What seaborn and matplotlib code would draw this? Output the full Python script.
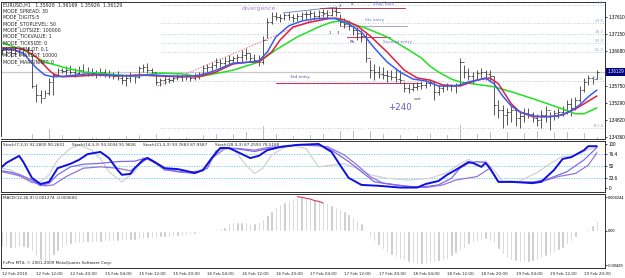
import numpy as np
import matplotlib.pyplot as plt
import matplotlib.transforms as mtransforms
import pandas as pd
import seaborn as sns

sns.set_style("white")
plt.rcParams['font.family'] = ['DejaVu Sans']

# ==========================================
# data (EURUSD H1, 12-19 Feb 2010)
# ==========================================
highs = [1.3680, 1.3677, 1.3674, 1.3677, 1.3680, 1.3677, 1.3680, 1.3672, 1.3580, 1.3563,
         1.3563, 1.3596, 1.3609, 1.3623, 1.3623, 1.3628, 1.3631, 1.3623, 1.3628, 1.3634,
         1.3626, 1.3623, 1.3617, 1.3623, 1.3620, 1.3617, 1.3612, 1.3615, 1.3607, 1.3601,
         1.3612, 1.3607, 1.3628, 1.3634, 1.3636, 1.3623, 1.3612, 1.3596, 1.3601, 1.3599,
         1.3604, 1.3607, 1.3604, 1.3609, 1.3607, 1.3609, 1.3612, 1.3631, 1.3634, 1.3639,
         1.3650, 1.3647, 1.3653, 1.3658, 1.3655, 1.3661, 1.3672, 1.3677, 1.3663, 1.3661,
         1.3658, 1.3710, 1.3758, 1.3775, 1.3775, 1.3769, 1.3772, 1.3775, 1.3769, 1.3772,
         1.3775, 1.3777, 1.3780, 1.3777, 1.3780, 1.3783, 1.3780, 1.3785, 1.3788, 1.3769,
         1.3758, 1.3753, 1.3739, 1.3734, 1.3726, 1.3718, 1.3645, 1.3634, 1.3628, 1.3626,
         1.3617, 1.3617, 1.3623, 1.3617, 1.3585, 1.3580, 1.3582, 1.3585, 1.3588, 1.3590,
         1.3593, 1.3585, 1.3577, 1.3580, 1.3582, 1.3580, 1.3582, 1.3650, 1.3631, 1.3623,
         1.3612, 1.3617, 1.3623, 1.3617, 1.3617, 1.3601, 1.3536, 1.3523, 1.3515, 1.3523,
         1.3515, 1.3504, 1.3515, 1.3515, 1.3504, 1.3499, 1.3509, 1.3520, 1.3504, 1.3509,
         1.3515, 1.3520, 1.3536, 1.3542, 1.3545, 1.3574, 1.3596, 1.3604, 1.3601, 1.3617]
lows = [1.3658, 1.3655, 1.3653, 1.3658, 1.3655, 1.3658, 1.3661, 1.3569, 1.3531, 1.3528,
        1.3545, 1.3550, 1.3550, 1.3604, 1.3609, 1.3604, 1.3607, 1.3599, 1.3607, 1.3609,
        1.3601, 1.3601, 1.3596, 1.3601, 1.3599, 1.3596, 1.3593, 1.3590, 1.3580, 1.3574,
        1.3585, 1.3582, 1.3596, 1.3612, 1.3609, 1.3604, 1.3577, 1.3574, 1.3580, 1.3582,
        1.3585, 1.3590, 1.3588, 1.3590, 1.3588, 1.3590, 1.3593, 1.3601, 1.3612, 1.3617,
        1.3623, 1.3626, 1.3628, 1.3631, 1.3634, 1.3636, 1.3639, 1.3645, 1.3639, 1.3636,
        1.3628, 1.3634, 1.3704, 1.3742, 1.3753, 1.3747, 1.3753, 1.3753, 1.3747, 1.3750,
        1.3753, 1.3756, 1.3758, 1.3753, 1.3756, 1.3761, 1.3756, 1.3764, 1.3764, 1.3737,
        1.3731, 1.3726, 1.3712, 1.3699, 1.3693, 1.3639, 1.3596, 1.3590, 1.3596, 1.3593,
        1.3585, 1.3590, 1.3585, 1.3582, 1.3558, 1.3555, 1.3561, 1.3563, 1.3566, 1.3569,
        1.3574, 1.3536, 1.3550, 1.3558, 1.3563, 1.3561, 1.3555, 1.3574, 1.3596, 1.3590,
        1.3580, 1.3590, 1.3596, 1.3590, 1.3585, 1.3496, 1.3488, 1.3461, 1.3469, 1.3477,
        1.3466, 1.3461, 1.3477, 1.3488, 1.3477, 1.3466, 1.3461, 1.3477, 1.3456, 1.3482,
        1.3488, 1.3493, 1.3499, 1.3493, 1.3509, 1.3531, 1.3558, 1.3577, 1.3580, 1.3593]
closes = [1.3672, 1.3666, 1.3663, 1.3669, 1.3666, 1.3672, 1.3672, 1.3574, 1.3550, 1.3542,
          1.3555, 1.3585, 1.3604, 1.3617, 1.3615, 1.3617, 1.3612, 1.3609, 1.3617, 1.3612,
          1.3612, 1.3609, 1.3607, 1.3612, 1.3604, 1.3607, 1.3601, 1.3596, 1.3590, 1.3596,
          1.3604, 1.3599, 1.3623, 1.3626, 1.3617, 1.3612, 1.3585, 1.3590, 1.3593, 1.3590,
          1.3596, 1.3599, 1.3601, 1.3604, 1.3596, 1.3601, 1.3607, 1.3623, 1.3626, 1.3631,
          1.3639, 1.3636, 1.3642, 1.3645, 1.3650, 1.3653, 1.3658, 1.3663, 1.3650, 1.3645,
          1.3639, 1.3699, 1.3747, 1.3764, 1.3761, 1.3758, 1.3766, 1.3761, 1.3758, 1.3764,
          1.3769, 1.3769, 1.3772, 1.3764, 1.3775, 1.3772, 1.3766, 1.3777, 1.3775, 1.3747,
          1.3742, 1.3737, 1.3726, 1.3718, 1.3710, 1.3650, 1.3617, 1.3612, 1.3607, 1.3604,
          1.3601, 1.3599, 1.3593, 1.3590, 1.3569, 1.3566, 1.3572, 1.3574, 1.3577, 1.3582,
          1.3585, 1.3558, 1.3569, 1.3574, 1.3577, 1.3574, 1.3577, 1.3639, 1.3612, 1.3601,
          1.3590, 1.3609, 1.3612, 1.3607, 1.3601, 1.3523, 1.3509, 1.3496, 1.3504, 1.3509,
          1.3488, 1.3493, 1.3501, 1.3499, 1.3488, 1.3482, 1.3496, 1.3509, 1.3493, 1.3501,
          1.3504, 1.3509, 1.3526, 1.3515, 1.3536, 1.3563, 1.3585, 1.3596, 1.3593, 1.36129]
volume = [2, 3, 2, 3, 2, 3, 4,
          6, 10, 9, 7, 11, 17,
          8, 5, 4, 3, 4, 3, 3, 4,
          3, 2, 3, 4, 3, 3, 4, 5, 4, 3,
          3, 5, 4, 3, 4, 6, 4, 3, 3, 4,
          3, 4, 3, 3, 4, 3, 5, 6, 5, 6,
          5, 6, 7, 6, 5, 7, 8, 9, 8, 10,
          14, 12, 7, 6, 5, 4, 5, 4, 3, 4,
          4, 5, 4, 5, 6, 5, 7, 8, 9, 8,
          7, 9, 10, 13, 15, 9, 7, 6, 6, 5,
          5, 6, 5, 7, 6, 5, 4, 5, 6, 7,
          12, 8, 6, 5, 6, 7, 15, 10, 8, 7,
          6, 7, 5, 8, 12, 11, 9, 8, 8, 7,
          8, 7, 6, 12, 9, 8, 9, 7, 8, 10,
          9, 8, 10, 12, 11, 7, 5, 4, 3]

# moving averages, read at sample bars
ma_blue_bar = [0, 3, 5, 8, 10, 12, 15, 20, 25, 30, 35, 40, 45, 48, 50, 54, 58, 60, 62, 64, 67, 70, 73, 76,
               78, 81, 84, 87, 90, 93, 96, 99, 102, 105, 107, 109, 111, 113, 115, 117, 119, 121, 124,
               127, 130, 133, 135, 137, 139]
ma_blue = [1.3674, 1.3672, 1.3663, 1.3623, 1.3604, 1.3599, 1.3601, 1.3607, 1.3604, 1.3601, 1.3604,
           1.3601, 1.3601, 1.3609, 1.3617, 1.3636, 1.3639, 1.3642, 1.3666, 1.3707, 1.3737, 1.3750,
           1.3756, 1.3758, 1.3756, 1.3742, 1.3720, 1.3677, 1.3639, 1.3612, 1.3593, 1.3588, 1.3574,
           1.3574, 1.3577, 1.3585, 1.3590, 1.3596, 1.3580, 1.3547, 1.3520, 1.3504, 1.3493, 1.3491,
           1.3493, 1.3507, 1.3523, 1.3545, 1.3563]
ma_red_bar = [0, 3, 5, 8, 11, 12, 14, 18, 22, 27, 32, 37, 42, 46, 50, 54, 58, 60, 63, 65, 68, 72, 76,
              78, 80, 83, 86, 90, 94, 97, 100, 103, 107, 109, 111, 114, 116, 119, 121, 124, 128, 131,
              134, 136, 139]
ma_red = [1.3677, 1.3677, 1.3674, 1.3653, 1.3617, 1.3607, 1.3599, 1.3601, 1.3604, 1.3601, 1.3604,
          1.3601, 1.3599, 1.3599, 1.3612, 1.3634, 1.3639, 1.3639, 1.3666, 1.3699, 1.3734, 1.3747,
          1.3756, 1.3758, 1.3753, 1.3737, 1.3710, 1.3666, 1.3617, 1.3596, 1.3590, 1.3577, 1.3574,
          1.3582, 1.3590, 1.3596, 1.3580, 1.3526, 1.3504, 1.3491, 1.3491, 1.3496, 1.3512, 1.3526,
          1.3547]
ma_green_bar = [0, 5, 10, 15, 19, 23, 27, 31, 37, 42, 46, 54, 60, 64, 69, 74, 77, 79, 81, 85, 90, 95,
                98, 100, 102, 105, 107, 110, 115, 120, 125, 129, 131, 134, 136, 139]
ma_green = [1.3691, 1.3672, 1.3639, 1.3623, 1.3612, 1.3609, 1.3604, 1.3601, 1.3609, 1.3607, 1.3599,
            1.3617, 1.3639, 1.3672, 1.3707, 1.3734, 1.3747, 1.3750, 1.3745, 1.3731, 1.3707, 1.3672,
            1.3650, 1.3628, 1.3612, 1.3593, 1.3585, 1.3580, 1.3572, 1.3555, 1.3536, 1.3520, 1.3512,
            1.3499, 1.3499, 1.3515]

# fibonacci retracement
fib_labels = ['0.0', '23.6', '38.2', '50.0', '61.8', '100.0', '161.8']
fib_prices = [1.3794, 1.3745, 1.3715, 1.3691, 1.3666, 1.3588, 1.3461]
fib_start_bar = 37

# 1.36210 sits under the current-price box in the original
price_ticks = [1.34360, 1.34820, 1.35290, 1.35750, 1.36680, 1.37150, 1.37610]

# stochastics
st7_bar = [0, 1, 4, 5, 7, 9, 11, 13, 16, 18, 20, 23, 25, 27, 28, 30, 31, 33, 34, 36, 38, 41, 43, 45, 47,
           49, 51, 53, 55, 58, 60, 62, 65, 69, 74, 77, 79, 81, 84, 88, 93, 97, 99, 102, 104, 106, 109,
           110, 112, 113, 114, 116, 119, 124, 126, 129, 131, 133, 136, 137, 139]
st7 = [48, 57, 73, 59, 23, 9, 14, 45, 55, 64, 77, 82, 68, 41, 30, 32, 45, 64, 68, 57, 45, 43, 39, 34, 41,
       68, 91, 91, 82, 68, 73, 86, 93, 98, 100, 82, 52, 23, 7, 5, 1, 1, 9, 16, 30, 41, 59,
       57, 48, 57, 45, 14, 14, 11, 14, 41, 66, 70, 86, 95, 95]
st14_bar = [0, 2, 4, 7, 9, 11, 13, 16, 19, 23, 27, 31, 34, 35, 38, 41, 43, 45, 48, 50, 52, 55, 59, 62,
            66, 70, 74, 77, 81, 84, 87, 92, 96, 99, 102, 105, 107, 109, 111, 113, 114, 116, 120, 124,
            128, 132, 136, 139]
st14 = [39, 36, 31, 18, 5, 11, 30, 48, 54, 56, 60, 61, 69, 64, 45, 37, 35, 33, 45, 84, 92, 89, 83, 89,
        95, 98, 98, 86, 60, 37, 14, 7, 3, 3, 7, 22, 45, 56, 60, 58, 45, 14, 13, 13,
        22, 37, 64, 92]
st21_bar = [0, 4, 7, 10, 12, 15, 19, 23, 27, 30, 34, 36, 38, 43, 47, 49, 52, 55, 59, 62, 67, 70, 76, 80,
            83, 86, 89, 95, 99, 103, 106, 111, 114, 116, 120, 126, 130, 134, 137, 139]
st21 = [37, 28, 14, 5, 7, 26, 45, 48, 45, 39, 67, 56, 41, 36, 39, 67, 89, 90, 86, 92, 96, 98, 94, 75,
        52, 26, 11, 3, 1, 7, 18, 26, 45, 14, 13, 14, 26, 33, 52, 80]
st28_bar = [0, 2, 5, 7, 9, 11, 13, 16, 18, 21, 23, 25, 28, 31, 33, 35, 38, 41, 46, 49, 51, 54, 57, 59,
            61, 63, 67, 71, 74, 77, 80, 83, 86, 90, 95, 100, 104, 107, 109, 111, 113, 115, 117, 121,
            125, 128, 131, 133, 135, 137, 139]
st28 = [45, 41, 22, 11, 14, 30, 64, 90, 98, 86, 67, 37, 14, 37, 69, 60, 41, 37, 36, 64, 90, 90, 52, 33,
        45, 75, 98, 90, 48, 52, 55, 45, 30, 22, 18, 22, 35, 55, 65, 55, 62, 40, 15, 16,
        35, 55, 72, 72, 78, 88, 92]
stoch_levels = [23.6, 50, 76.4]

# MACD histogram (one value per bar) and visible part of the signal line
macd = [-0.0020, -0.0020, -0.0021, -0.0021, -0.0020, -0.0020, -0.0021,
        -0.0025, -0.0031, -0.0036, -0.0039, -0.0038, -0.0030, -0.0025, -0.0021, -0.0018,
        -0.0016, -0.0015, -0.0015, -0.0015, -0.0014, -0.0014, -0.0014, -0.0014,
        -0.0013, -0.0013, -0.0013, -0.0013, -0.0011, -0.0011, -0.0011, -0.0011,
        -0.0010, -0.0010, -0.0009, -0.0009, -0.0009, -0.0008, -0.0008, -0.0008, -0.0006, -0.0006, -0.0006,
        -0.0005, -0.0004, -0.0004, -0.0003, -0.0001,
        0.0000,
        0.0001, 0.0003, 0.0004, 0.0005,
        0.0010, 0.0011, 0.0011, 0.0011, 0.0011, 0.0010, 0.0010, 0.0011,
        0.0015, 0.0020, 0.0025,
        0.0030, 0.0034, 0.0036,
        0.0039, 0.0041, 0.0043, 0.0043,
        0.0043, 0.0041, 0.0040, 0.0039, 0.0038,
        0.0035, 0.0033, 0.0030, 0.0028, 0.0025,
        0.0021, 0.0018, 0.0014, 0.0010,
        0.0003,
        -0.0008, -0.0013, -0.0018, -0.0023,
        -0.0026, -0.0030, -0.0033, -0.0035, -0.0036,
        -0.0039, -0.0040, -0.0041, -0.0041, -0.0041,
        -0.0040, -0.0039, -0.0038, -0.0036, -0.0035,
        -0.0031, -0.0028, -0.0024, -0.0021,
        -0.0016, -0.0014, -0.0013, -0.0011, -0.0010,
        -0.0013, -0.0015,
        -0.0023, -0.0029, -0.0034,
        -0.0036, -0.0038, -0.0039, -0.0039, -0.0039, -0.0038, -0.0036,
        -0.0034, -0.0031, -0.0029, -0.0026, -0.0024, -0.0021,
        -0.0016, -0.0013, -0.0008,
        -0.0001,
        0.0001, 0.0004, 0.0008, 0.0013]
signal_bar = [69, 70, 71, 72, 73, 74, 75]
signal = [0.0043, 0.0042, 0.0041, 0.0040, 0.0038, 0.0037, 0.0035]

time_labels = ['12 Feb 2010', '12 Feb 12:00', '12 Feb 20:00', '15 Feb 04:00', '15 Feb 12:00',
               '15 Feb 20:00', '16 Feb 04:00', '16 Feb 12:00', '16 Feb 20:00', '17 Feb 04:00',
               '17 Feb 12:00', '17 Feb 20:00', '18 Feb 04:00', '18 Feb 12:00', '18 Feb 20:00',
               '19 Feb 04:00', '19 Feb 12:00', '19 Feb 20:00']

info_lines = ['EURUSD,H1   1.35928  1.36169  1.35926  1.36129', 'MODE_SPREAD: 30', 'MODE_DIGITS:5',
              'MODE_STOPLEVEL: 50', 'MODE_LOTSIZE: 100000', 'MODE_TICKVALUE: 1', 'MODE_TICKSIZE: 0',
              'MODE_MINLOT: 0.1', 'MODE_MAXLOT: 10000', 'MODE_MARGININIT: 0']
stoch_titles = ['Stoch(7,3,3) 92.2800 90.2601', 'Stoch(14,3,3) 93.5034 91.9826',
                'Stoch(21,3,3) 93.7683 87.9587', 'Stoch(28,3,3) 87.2593 78.5188']

# ==========================================
# layout helpers (pixel boxes of the 625x278 image)
# ==========================================
W, H = 625, 278
FS = 3.4        # info text
FS_SMALL = 3.0  # pane titles, time axis
FS_AX = 3.3     # right-hand scale (Liberation, narrower)
AX_FONT = ['Liberation Sans', 'DejaVu Sans']


def px_box(left, top, right, bottom):
    return [left / W, 1 - bottom / H, (right - left) / W, (bottom - top) / H]


bars = np.arange(len(closes))
closes = np.array(closes)
opens = np.r_[closes[0], closes[:-1]]

fig = plt.figure(figsize=(W / 100, H / 100), dpi=100)
ax = fig.add_axes(px_box(1, 2, 605, 139))
ax_s = fig.add_axes(px_box(1, 141, 605, 192), sharex=ax)
ax_m = fig.add_axes(px_box(1, 194, 605, 268), sharex=ax)

# ------------------------------------------
# main price pane
# ------------------------------------------
ax_v = ax.twinx()
ax_v.bar(bars, volume, width=0.3, color='#a48ea4', zorder=1)
ax_v.set_ylim(0, 137)
ax_v.axis('off')

bar_col = '#3c3c3c'
ax.vlines(bars, lows, highs, color=bar_col, lw=0.6, zorder=3)
ax.hlines(opens, bars - 0.4, bars, color=bar_col, lw=0.6, zorder=3)
ax.hlines(closes, bars, bars + 0.4, color=bar_col, lw=0.6, zorder=3)

ax.axhline(closes[-1], color='#c8c8c8', lw=0.9, zorder=1)
ax.hlines(fib_prices, fib_start_bar, 140.8, color='#a9b9d9', lw=0.6, linestyles=(0, (1, 2)), zorder=1)
for lab, p in zip(fib_labels, fib_prices):
    ax.text(140.6, p, lab, ha='right', va='bottom', fontsize=FS_SMALL, color='#a3afcc')

sns.lineplot(x=ma_green_bar, y=ma_green, ax=ax, color='#22e022', lw=1.1, zorder=4)
sns.lineplot(x=ma_red_bar, y=ma_red, ax=ax, color='#e0203c', lw=1.1, zorder=5)
sns.lineplot(x=ma_blue_bar, y=ma_blue, ax=ax, color='#3a5cf0', lw=1.1, zorder=6)

# trader's drawings
ax.plot([36.4, 78.5], [1.3574, 1.3783], color='#e07878', lw=0.7, ls=(0, (1.5, 1.5)), zorder=2)
ax.plot([65.7, 78.3], [1.3772, 1.3788], color='#7090c8', lw=0.7, zorder=2)
ax.plot([74.3, 94.2], [1.3785, 1.3785], color='#b04050', lw=0.7, zorder=2)
ax.plot([79.0, 94.6], [1.3737, 1.3737], color='#b8a6c8', lw=0.8, zorder=2)
ax.plot([80.6, 90.7], [1.3707, 1.3707], color='#d04060', lw=0.8, zorder=2)
ax.plot([64.0, 97.7], [1.3582, 1.3582], color='#c43c5c', lw=0.8, zorder=2)

notes = [('divergence', 60.0, 1.3785, 4.4, '#a280e4'),
         ('stop loss', 89.0, 1.3797, 3.4, '#7a6acc'),
         ('fits entry', 87.0, 1.3753, 3.1, '#7a6acc'),
         ('Second entry', 92.5, 1.3693, 3.2, '#7a6acc'),
         ('3rd entry', 69.5, 1.3599, 3.1, '#5a4ab0'),
         ('exit', 97.2, 1.3539, 3.1, '#505050'),
         ('+240', 93.0, 1.3515, 6.2, '#6a5acd'),
         ('x', 81.8, 1.3795, 3.2, '#404040'),
         ('2', 79.0, 1.3792, 3.0, '#404040'),
         ('1', 76.6, 1.3718, 3.0, '#404040'),
         ('3', 78.5, 1.3718, 3.0, '#404040'),
         ('Rh', 81.8, 1.3693, 3.1, '#404040')]
for txt, xb, yp, fs, col in notes:
    ax.text(xb, yp, txt, ha='center', va='center', fontsize=fs, color=col, zorder=7)

ax.set_xlim(-0.23, 140.9)
ax.set_ylim(1.34306, 1.38016)
ax.yaxis.tick_right()
ax.set_yticks(price_ticks)
ax.set_yticklabels([f'{p:.5f}' for p in price_ticks])
trans = mtransforms.blended_transform_factory(ax.transAxes, ax.transData)
ax.text(1.004, closes[-1], f'{closes[-1]:.5f}', transform=trans, ha='left', va='center',
        fontsize=FS_AX, family=AX_FONT, color='white', zorder=10,
        bbox=dict(boxstyle='square,pad=0.3', fc='#000080', ec='none'))

# ------------------------------------------
# stochastic pane
# ------------------------------------------
for lvl in stoch_levels:
    ax_s.axhline(lvl, color='#5cc8f2', lw=0.6, ls=(0, (1.5, 1.5)), zorder=1)
sns.lineplot(x=st28_bar, y=st28, ax=ax_s, color='#d2d2d2', lw=0.9)
sns.lineplot(x=st21_bar, y=st21, ax=ax_s, color='#9a72d8', lw=0.9)
sns.lineplot(x=st14_bar, y=st14, ax=ax_s, color='#7c6cf0', lw=0.9)
sns.lineplot(x=st7_bar, y=st7, ax=ax_s, color='#1010e0', lw=1.4)
ax_s.set_ylim(-9.1, 106.8)
ax_s.yaxis.tick_right()
ax_s.set_yticks([0, 23.6, 50, 76.4, 100])
ax_s.set_yticklabels(['0', '23.6', '50', '76.4', '100'])
for xpx, t in zip([3, 72, 143, 215], stoch_titles):
    fig.text(xpx / W, 1 - 145.5 / H, t, fontsize=FS_SMALL, va='center', ha='left')

# ------------------------------------------
# MACD pane
# ------------------------------------------
ax_m.bar(bars, macd, width=0.55, color='#c4c4c4', zorder=2)
ax_m.plot(signal_bar, signal, color='#e03a5a', lw=0.8, zorder=3)
ax_m.set_ylim(-0.00462, 0.00462)
ax_m.yaxis.tick_right()
ax_m.set_yticks([-0.00429, 0.0, 0.004244])
ax_m.set_yticklabels(['-0.00429', '0.00', '0.004244'])
ax_m.set_xticks(np.arange(0, 137, 8))
ax_m.set_xticklabels(time_labels, ha='left')
fig.text(3 / W, 1 - 198 / H, 'MACD(12,26,9) 0.001274 -0.000600', fontsize=FS_SMALL, va='center')
fig.text(3 / W, 1 - 263 / H, 'FxPro MT4, \u00a9 2001-2009 MetaQuotes Software Corp.',
         fontsize=FS_SMALL, va='center')

for a in (ax, ax_s, ax_m):
    a.set_xlabel('')
    a.set_ylabel('')
    a.tick_params(axis='y', labelsize=FS_AX, length=1.5, width=0.5, pad=1, right=True, colors='black')
    a.tick_params(axis='x', labelsize=FS_SMALL, length=2, width=0.5, pad=1)
    for lab in a.get_yticklabels():
        lab.set_family(AX_FONT)
    for s in a.spines.values():
        s.set_color('#303030')
        s.set_linewidth(0.7)
for a in (ax, ax_s):
    a.tick_params(axis='x', bottom=False, labelbottom=False)
# the MACD scale labels are the longest; keep them inside the image
ax_m.tick_params(axis='y', labelsize=2.9, pad=0.8)

for i, line in enumerate(info_lines):
    fig.text(3 / W, 1 - (5 + 6.3 * i) / H, line, fontsize=FS, va='center', ha='left', zorder=20)

fig.savefig('out.png', dpi=100, facecolor='white')
